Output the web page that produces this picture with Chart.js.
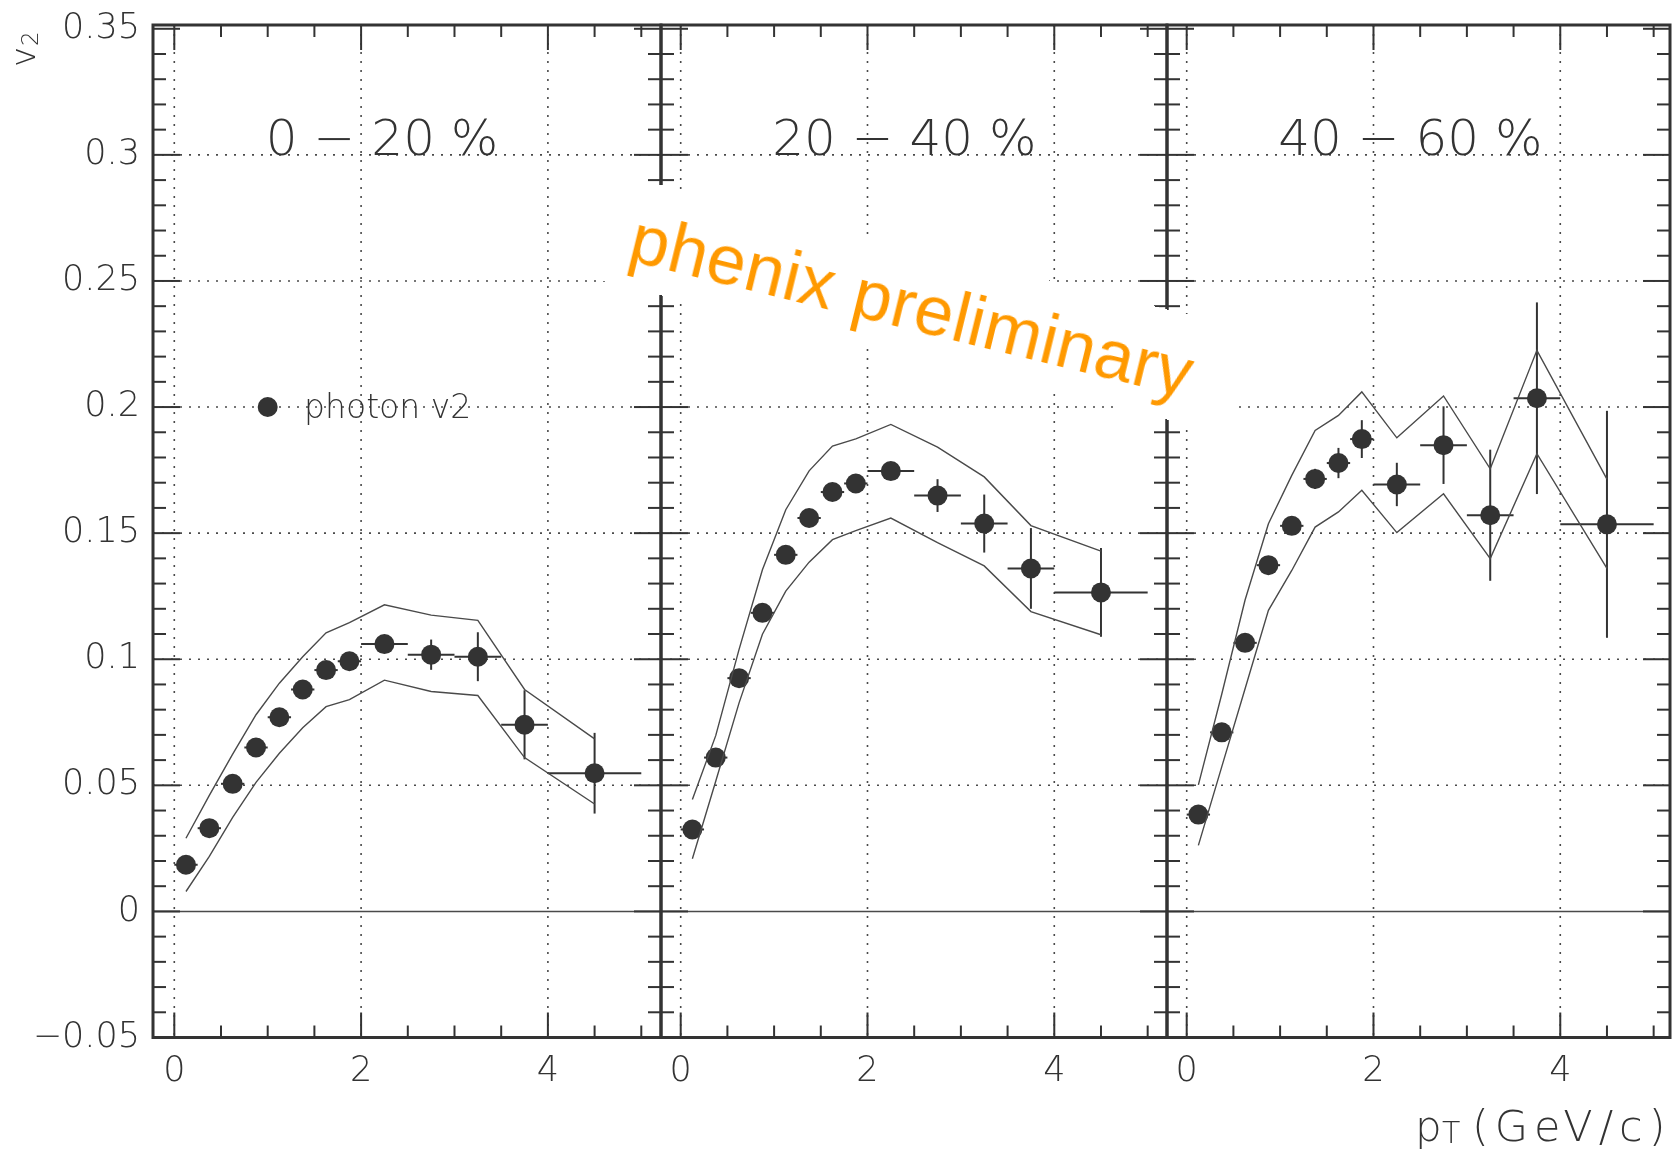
<!DOCTYPE html>
<html>
<head>
<meta charset="utf-8">
<title>photon v2</title>
<script src="https://cdn.jsdelivr.net/npm/chart.js@4.4.1/dist/chart.umd.min.js"></script>
<style>
  body { margin: 0; background: #fff; }
  #wrap { position: relative; width: 1673px; height: 1153px; overflow: hidden; }
  #wrap canvas { position: absolute; left: 0; top: 0; }
  #stamp {
    position: absolute; left: 628px; top: 177px; width: 647px; height: 107px;
    background: #fff; transform-origin: 0 0; transform: rotate(13.8deg);
  }
  #stamp span {
    position: absolute; left: 18px; top: 22px; white-space: nowrap;
    font: 70px/1 "Liberation Sans", Arial, sans-serif; color: #ff9900; letter-spacing: 0.5px;
  }
</style>
</head>
<body>
<div id="wrap">
  <canvas id="c0" width="1673" height="1153"></canvas>
  <canvas id="c1" width="1673" height="1153"></canvas>
  <canvas id="c2" width="1673" height="1153"></canvas>
  <div id="stamp"><span>phenix preliminary</span></div>
</div>
<script>
// pT bins (GeV/c): centres and half widths
const ptCenters = [0.125, 0.375, 0.625, 0.875, 1.125, 1.375, 1.625, 1.875, 2.25, 2.75, 3.25, 3.75, 4.5];
const ptHalf    = [0.125, 0.125, 0.125, 0.125, 0.125, 0.125, 0.125, 0.125, 0.25, 0.25, 0.25, 0.25, 0.5];

const centralities = ['0 \u2212 20 %', '20 \u2212 40 %', '40 \u2212 60 %'];

// 0-20 %
const v2_0020    = [0.0185, 0.033, 0.0506, 0.065, 0.077, 0.088, 0.0957, 0.0992, 0.106, 0.1018, 0.101, 0.074, 0.0548];
const stat_0020  = [0.001, 0.001, 0.001, 0.001, 0.001, 0.002, 0.003, 0.002, 0.003, 0.006, 0.0097, 0.0137, 0.016];
const sysHi_0020 = [0.029, 0.046, 0.0624, 0.078, 0.0905, 0.101, 0.1105, 0.1145, 0.1216, 0.1175, 0.1154, 0.088, 0.0684];
const sysLo_0020 = [0.0079, 0.0218, 0.0373, 0.0512, 0.0627, 0.0728, 0.0812, 0.084, 0.0917, 0.0872, 0.0856, 0.061, 0.0426];

// 20-40 %
const v2_2040    = [0.0325, 0.061, 0.0925, 0.1184, 0.1414, 0.156, 0.1663, 0.1697, 0.1746, 0.1649, 0.1538, 0.136, 0.1265];
const stat_2040  = [0.001, 0.001, 0.002, 0.002, 0.002, 0.002, 0.002, 0.002, 0.003, 0.0065, 0.0115, 0.016, 0.0176];
const sysHi_2040 = [0.0444, 0.0697, 0.1039, 0.1355, 0.1593, 0.1747, 0.1845, 0.1874, 0.1931, 0.1841, 0.1723, 0.153, 0.1429];
const sysLo_2040 = [0.0209, 0.0516, 0.0827, 0.1099, 0.127, 0.1385, 0.1474, 0.151, 0.156, 0.1462, 0.137, 0.1189, 0.1097];

// 40-60 %
const v2_4060    = [0.0384, 0.071, 0.1065, 0.1373, 0.1529, 0.1715, 0.1778, 0.1873, 0.1693, 0.1849, 0.1571, 0.2035, 0.1535];
const stat_4060  = [0.002, 0.002, 0.002, 0.003, 0.003, 0.004, 0.006, 0.0075, 0.0086, 0.0154, 0.026, 0.038, 0.045];
const sysHi_4060 = [0.0502, 0.0861, 0.1235, 0.1537, 0.1729, 0.1907, 0.1967, 0.206, 0.1878, 0.2044, 0.1755, 0.2225, 0.1714];
const sysLo_4060 = [0.0262, 0.0573, 0.0883, 0.1194, 0.1352, 0.1524, 0.1584, 0.167, 0.1502, 0.1656, 0.1399, 0.1815, 0.136];

const xTickLabels = [0, 2, 4];
const yTickLabels = [-0.05, 0, 0.05, 0.1, 0.15, 0.2, 0.25, 0.3, 0.35];
const gridYValues = [0.05, 0.1, 0.15, 0.2, 0.25, 0.3];

const panels = [
  { v2: v2_0020, stat: stat_0020, hi: sysHi_0020, lo: sysLo_0020, left: 153, right: 661, xmin: -0.228, xmax: 5.211 },
  { v2: v2_2040, stat: stat_2040, hi: sysHi_2040, lo: sysLo_2040, left: 661, right: 1167, xmin: -0.211, xmax: 5.207 },
  { v2: v2_4060, stat: stat_4060, hi: sysHi_4060, lo: sysLo_4060, left: 1167, right: 1670, xmin: -0.211, xmax: 5.175 }
];

const INK = '#333';
const FONT = '"DejaVu Sans", "Liberation Sans", sans-serif';

function seg(ctx, x1, y1, x2, y2) {
  ctx.beginPath(); ctx.moveTo(x1, y1); ctx.lineTo(x2, y2); ctx.stroke();
}

const rootFrame = {
  id: 'rootFrame',
  beforeDatasetsDraw(chart) {
    const { ctx, chartArea: a, scales: { x, y } } = chart;
    ctx.save();
    ctx.strokeStyle = '#4a4a4a';
    ctx.lineWidth = 1.6;
    ctx.setLineDash([2, 7]);
    xTickLabels.forEach(v => { const px = x.getPixelForValue(v); seg(ctx, px, a.top, px, a.bottom); });
    gridYValues.forEach(v => { const py = y.getPixelForValue(v); seg(ctx, a.left, py, a.right, py); });
    ctx.setLineDash([]);
    ctx.lineWidth = 1.5;
    const y0 = y.getPixelForValue(0);
    seg(ctx, a.left, y0, a.right, y0);
    ctx.restore();
  },
  beforeDatasetDraw(chart, args) {
    const ds = chart.data.datasets[args.index];
    if (!ds.errY) return;
    const { ctx, scales: { x, y } } = chart;
    ctx.save();
    ctx.strokeStyle = INK;
    ctx.lineWidth = 2;
    ds.data.forEach((p, i) => {
      const px = x.getPixelForValue(p.x), py = y.getPixelForValue(p.y);
      seg(ctx, x.getPixelForValue(p.x - ds.errX[i]), py, x.getPixelForValue(p.x + ds.errX[i]), py);
      seg(ctx, px, y.getPixelForValue(p.y - ds.errY[i]), px, y.getPixelForValue(p.y + ds.errY[i]));
    });
    ctx.restore();
  },
  afterDraw(chart, args, opts) {
    const { ctx, chartArea: a, scales: { x, y } } = chart;
    ctx.save();
    ctx.strokeStyle = INK;
    ctx.lineWidth = 2;
    // y ticks, both sides, every 0.01
    for (let i = -5; i <= 35; i++) {
      const py = y.getPixelForValue(i / 100);
      const len = i % 5 === 0 ? 27 : 13;
      seg(ctx, a.left, py, a.left + len, py);
      seg(ctx, a.right, py, a.right - len, py);
    }
    // x ticks, top and bottom, every 0.5
    for (let k = 0; k <= 10; k++) {
      const v = k * 0.5;
      if (v > x.max) continue;
      const px = x.getPixelForValue(v);
      const len = k % 4 === 0 ? 25 : 12;
      seg(ctx, px, a.bottom, px, a.bottom - len);
      seg(ctx, px, a.top, px, a.top + len);
    }
    ctx.lineWidth = 3;
    ctx.strokeRect(a.left, a.top, a.right - a.left, a.bottom - a.top);

    // centrality label
    ctx.fillStyle = INK;
    ctx.font = '200 50px ' + FONT;
    ctx.textBaseline = 'alphabetic';
    ctx.textAlign = 'left';
    ctx.fillText(opts.title, x.getPixelForValue(0.98), y.getPixelForValue(0.3));

    if (opts.legend) {
      const lx = x.getPixelForValue(1.0), ly = y.getPixelForValue(0.2);
      ctx.beginPath(); ctx.arc(lx, ly, 10, 0, Math.PI * 2); ctx.fill();
      ctx.font = '200 33px ' + FONT;
      ctx.textBaseline = 'middle';
      ctx.fillText(opts.legend, x.getPixelForValue(1.39), ly + 2);
      // y axis title, rotated
      ctx.save();
      ctx.translate(35, 67);
      ctx.rotate(-Math.PI / 2);
      ctx.textBaseline = 'alphabetic';
      ctx.font = '200 34px ' + FONT;
      ctx.fillText('v', 0, 0);
      ctx.font = '200 23px ' + FONT;
      ctx.fillText('2', 21, 3);
      ctx.restore();
    }
    if (opts.xTitle) {
      ctx.textBaseline = 'alphabetic';
      ctx.font = '200 42px ' + FONT;
      ctx.fillText('p', 1415, 1141);
      ctx.font = '200 30px ' + FONT;
      ctx.letterSpacing = '0px';
      ctx.fillText('T', 1442, 1143);
      ctx.font = '200 43px ' + FONT;
      ctx.letterSpacing = '6px';
      ctx.fillText('(GeV/c)', 1472, 1141);
      ctx.letterSpacing = '0px';
    }
    ctx.restore();
  }
};

function fmtY(v) {
  if (Math.abs(v) < 1e-9) return '0';
  const s = String(+Math.abs(v).toFixed(2));
  return v < 0 ? '\u2212' + s : s;
}

panels.forEach((p, idx) => {
  const pts = ptCenters.map((x, i) => ({ x, y: p.v2[i] }));
  const hi = ptCenters.map((x, i) => ({ x, y: p.hi[i] }));
  const lo = ptCenters.map((x, i) => ({ x, y: p.lo[i] }));
  const band = { showLine: true, pointRadius: 0, borderColor: '#4a4a4a', borderWidth: 1.4, tension: 0, fill: false };

  new Chart(document.getElementById('c' + idx), {
    type: 'scatter',
    data: {
      datasets: [
        Object.assign({ data: hi }, band),
        Object.assign({ data: lo }, band),
        { data: pts, errX: ptHalf, errY: p.stat, pointRadius: 10, pointHoverRadius: 10,
          pointBackgroundColor: INK, pointBorderWidth: 0, showLine: false }
      ]
    },
    options: {
      responsive: false,
      animation: false,
      events: [],
      layout: { autoPadding: false, padding: { left: 0, right: 1673 - p.right, top: 25, bottom: 55.5 } },
      scales: {
        x: {
          type: 'linear', min: p.xmin, max: p.xmax,
          grid: { display: false }, border: { display: false },
          afterBuildTicks: s => { s.ticks = xTickLabels.map(v => ({ value: v })); },
          afterFit: s => { s.height = 60; s.paddingLeft = 0; s.paddingRight = 0; },
          ticks: { autoSkip: false, maxRotation: 0, padding: 5, color: INK,
                   font: { family: FONT, size: 35, weight: '200' }, callback: v => String(v) }
        },
        y: {
          type: 'linear', min: -0.05, max: 0.3515, display: idx === 0,
          grid: { display: false }, border: { display: false },
          afterBuildTicks: s => { s.ticks = yTickLabels.map(v => ({ value: v })); },
          afterFit: s => { s.width = p.left; s.paddingTop = 0; s.paddingBottom = 0; },
          ticks: { autoSkip: false, padding: 5, color: INK,
                   font: { family: FONT, size: 35, weight: '200' }, callback: fmtY }
        }
      },
      plugins: {
        legend: { display: false },
        tooltip: { enabled: false },
        rootFrame: { title: centralities[idx], legend: idx === 0 ? 'photon v2' : null, xTitle: idx === 2 }
      }
    },
    plugins: [rootFrame]
  });
});
</script>
</body>
</html>
